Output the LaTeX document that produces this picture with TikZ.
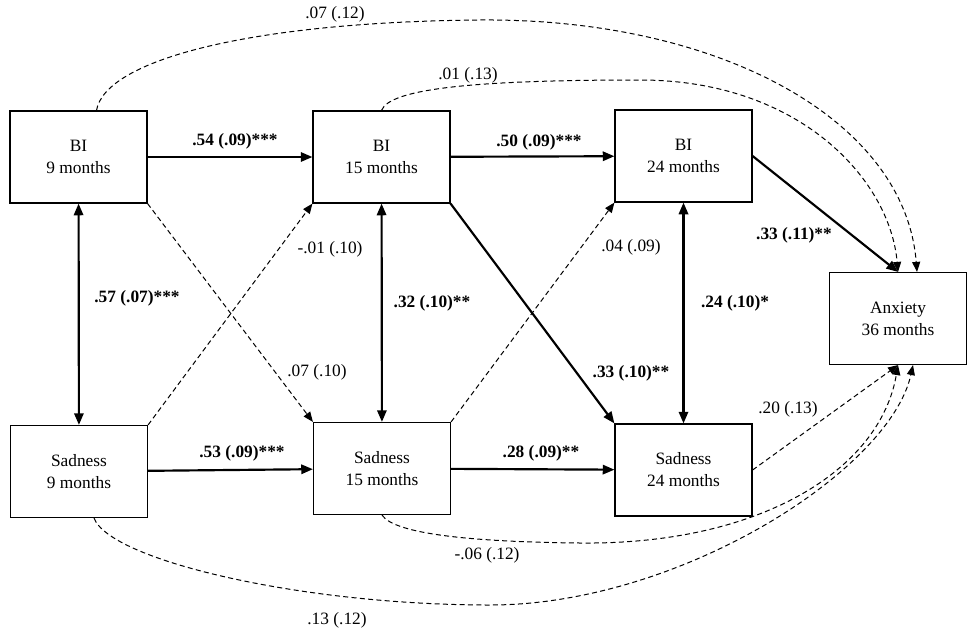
\documentclass[tikz,border=0pt]{standalone}
\usepackage{fontspec}
\setmainfont{Liberation Serif}
\usetikzlibrary{arrows.meta,calc}
\tikzset{
  box/.style={draw, line width=0.9pt, minimum width=82pt, minimum height=55pt,
    inner sep=0pt, align=center, font=\fontsize{10.4}{13.2}\selectfont},
  sig/.style={line width=1.3pt, ->},
  nonsig/.style={line width=0.6pt, dash pattern=on 3pt off 2pt,
    -{Triangle[length=6pt,width=4.8pt]}},
  coef/.style={inner sep=1pt, font=\fontsize{10.4}{12}\selectfont},
}
\begin{document}
\begin{tikzpicture}[x=0.6pt,y=-0.6pt,>={Triangle[length=7pt,width=5.6pt]}]
  \useasboundingbox (0,0) rectangle (970,631);
  \node[box] (bi9) at (78.5,157) {BI\\9 months};
  \node[box] (bi15) at (381.5,157) {BI\\15 months};
  \node[box] (bi24) at (683.5,156) {BI\\24 months};
  \node[box] (sad9) at (79,471.5) {Sadness\\9 months};
  \node[box] (sad15) at (382,468.5) {Sadness\\15 months};
  \node[box] (sad24) at (683.5,470) {Sadness\\24 months};
  \node[box] (anx) at (898,318.5) {Anxiety\\36 months};

  \draw[sig] (bi9) -- (bi15);
  \draw[sig] (bi15) -- (bi24);
  \draw[sig] (sad9) -- (sad15);
  \draw[sig] (sad15) -- (sad24);
  \draw[sig,<->] (bi9) -- (sad9);
  \draw[sig,<->] (bi15) -- (sad15);
  \draw[sig,<->] (bi24) -- (sad24);
  \draw[nonsig] (bi9.south east) -- (sad15.north west);
  \draw[nonsig] (sad9.north east) -- (bi15.south west);
  \draw[sig] (bi15.south east) -- (sad24.north west);
  \draw[nonsig] (sad15.north east) -- (bi24.south west);
  \draw[sig] (bi24.east) -- (anx.north);
  \draw[nonsig] (sad24.east) -- (anx.south);
  \draw[nonsig] ($(bi9.north)+(18,0)$) .. controls (105,60) and (250,22) .. (480,20)
    .. controls (720,18) and (905,120) .. ($(anx.north)+(19,0)$);
  \draw[nonsig] (bi15.north) .. controls (390,88) and (480,80) .. (640,80)
    .. controls (800,80) and (890,180) .. (anx.north);
  \draw[nonsig] (sad15.south) .. controls (395,535) and (480,542) .. (580,543)
    .. controls (760,545) and (880,470) .. (anx.south);
  \draw[nonsig] ($(sad9.south)+(15,0)$) .. controls (110,560) and (300,605) .. (490,605)
    .. controls (680,605) and (890,470) .. ($(anx.south)+(15,0)$);

  \node[coef] (c54) at (235,141) {\textbf{.54 (.09)***}};
  \node[coef] (c50) at (539,142) {\textbf{.50 (.09)***}};
  \node[coef] (c53) at (242,453) {\textbf{.53 (.09)***}};
  \node[coef] (c28) at (541,453) {\textbf{.28 (.09)**}};
  \node[coef] (c57) at (137,298) {\textbf{.57 (.07)***}};
  \node[coef] (c32) at (432,303) {\textbf{.32 (.10)**}};
  \node[coef] (c24) at (735,303) {\textbf{.24 (.10)*}};
  \node[coef] (c33a) at (631,373) {\textbf{.33 (.10)**}};
  \node[coef] (c33b) at (794,235) {\textbf{.33 (.11)**}};
  \node[coef] (c07a) at (317,372) {.07 (.10)};
  \node[coef] (c01a) at (330,249) {-.01 (.10)};
  \node[coef] (c04) at (631,247) {.04 (.09)};
  \node[coef] (c20) at (788,409) {.20 (.13)};
  \node[coef] (c07b) at (335,14) {.07 (.12)};
  \node[coef] (c01b) at (468,75) {.01 (.13)};
  \node[coef] (c06) at (487,555) {-.06 (.12)};
  \node[coef] (c13) at (337,620) {.13 (.12)};
\end{tikzpicture}
\end{document}
